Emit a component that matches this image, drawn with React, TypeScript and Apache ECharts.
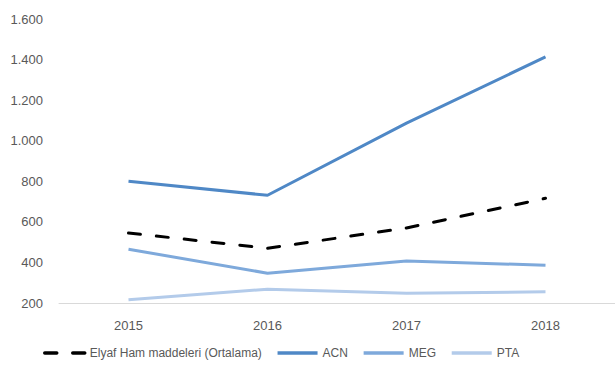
import React, { useEffect, useRef } from "react";
import * as echarts from "echarts";

const categories = ["2015", "2016", "2017", "2018"];
const avgValues = [545, 470, 570, 716];
const acnValues = [800, 731, 1087, 1413];
const megValues = [465, 347, 407, 386];
const ptaValues = [216, 268, 248, 255];
const seriesNames = ["Elyaf Ham maddeleri (Ortalama)", "ACN", "MEG", "PTA"];

const FONT = "'Liberation Sans', sans-serif";

export default function App() {
  const ref = useRef<HTMLDivElement>(null);
  useEffect(() => {
    if (!ref.current) return;
    const chart = echarts.init(ref.current, undefined, { renderer: "svg" });
    const lineSeries = (name: string, data: number[], color: string, dashed = false) => ({
      name,
      type: "line",
      data,
      symbol: "none",
      lineStyle: { color, width: 3, type: dashed ? [12, 16] : "solid", cap: dashed ? "round" : "butt" },
      itemStyle: { color },
    });
    chart.setOption({
      animation: false,
      textStyle: { fontFamily: FONT },
      grid: { left: 59, right: -6, top: 19, bottom: 66 },
      xAxis: {
        type: "category",
        data: categories,
        boundaryGap: true,
        axisLine: { show: true, lineStyle: { color: "#d9d9d9", width: 1 } },
        axisTick: { show: false },
        axisLabel: { color: "#595959", fontSize: 13, margin: 16, fontFamily: FONT },
      },
      yAxis: {
        type: "value",
        min: 200,
        max: 1600,
        interval: 200,
        axisLine: { show: false },
        axisTick: { show: false },
        splitLine: { show: false },
        axisLabel: {
          color: "#595959",
          fontSize: 13,
          margin: 16,
          fontFamily: FONT,
          formatter: (v: number) => v.toLocaleString("de-DE"),
        },
      },
      legend: {
        bottom: 5,
        left: 38,
        itemWidth: 40,
        itemHeight: 4,
        itemGap: 14,
        itemStyle: { opacity: 0 },
        lineStyle: { width: 3.5 },
        textStyle: { color: "#595959", fontSize: 12, fontFamily: FONT },
        data: seriesNames,
      },
      series: [
        lineSeries(seriesNames[0], avgValues, "#000000", true),
        lineSeries(seriesNames[1], acnValues, "#4F88C6"),
        lineSeries(seriesNames[2], megValues, "#7EA9DB"),
        lineSeries(seriesNames[3], ptaValues, "#B3CBEA"),
      ],
    });
    return () => chart.dispose();
  }, []);
  return <div ref={ref} style={{ width: 615, height: 369, position: "absolute", left: 0, top: 0 }} />;
}
